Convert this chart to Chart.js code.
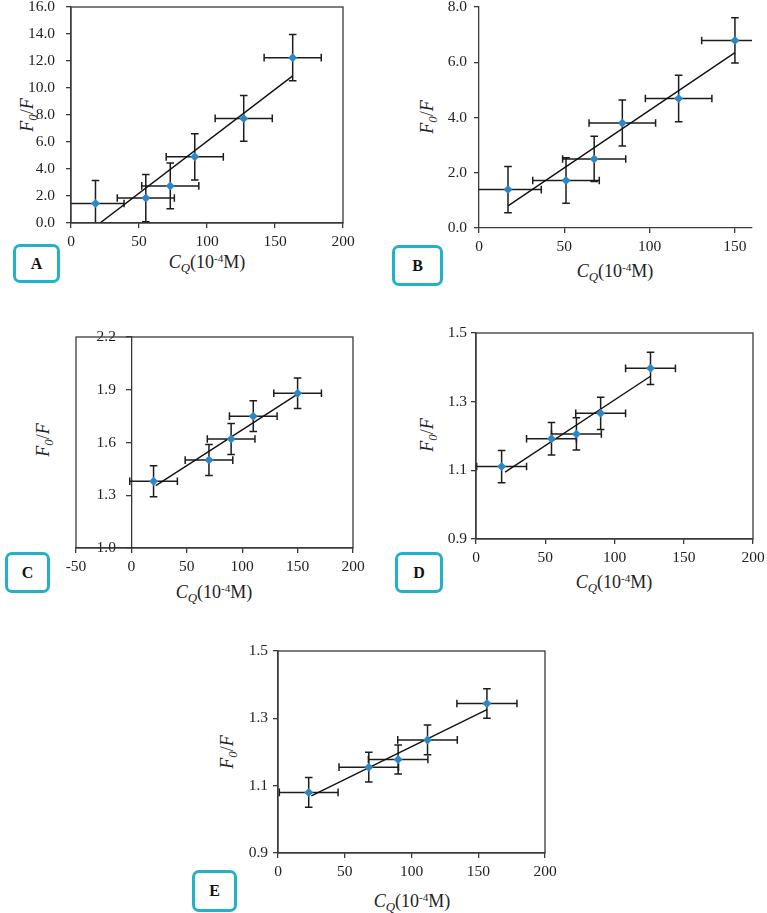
<!DOCTYPE html>
<html>
<head>
<meta charset="utf-8">
<script src="https://cdn.jsdelivr.net/npm/chart.js@4.4.1/dist/chart.umd.min.js"></script>
<style>
  body { margin: 0; background: #fff; width: 767px; height: 913px; position: relative; overflow: hidden; font-family: "Liberation Serif", serif; color: #222; }
  .wrap { position: absolute; }
  .xt, .yt { position: absolute; font-size: 18px; line-height: 1; white-space: nowrap; transform: translate(-50%, -50%); }
  .yt { transform: translate(-50%, -50%) rotate(-90deg); }
  sub { font-size: 0.72em; vertical-align: -0.28em; line-height: 0; }
  sup { font-size: 0.62em; vertical-align: 0.55em; line-height: 0; }
  .tag { position: absolute; box-sizing: border-box; border: 3px solid #22b1c7; border-radius: 7px;
         display: flex; align-items: center; justify-content: center; font-weight: bold; font-size: 16px; color: #111; }
</style>
</head>
<body>

<div class="xt" style="left:207px;top:262px"><i>C</i><sub><i>Q</i></sub>(10<sup>-4</sup>M)</div>
<div class="yt" style="left:27px;top:115px"><i>F</i><sub><i>0</i></sub>/<i>F</i></div>
<div class="tag" style="left:13px;top:244px;width:47px;height:39px">A</div>

<div class="xt" style="left:615px;top:271px"><i>C</i><sub><i>Q</i></sub>(10<sup>-4</sup>M)</div>
<div class="yt" style="left:427px;top:117px"><i>F</i><sub><i>0</i></sub>/<i>F</i></div>
<div class="tag" style="left:392px;top:245px;width:51px;height:41px">B</div>

<div class="xt" style="left:214px;top:592px"><i>C</i><sub><i>Q</i></sub>(10<sup>-4</sup>M)</div>
<div class="yt" style="left:43px;top:440px"><i>F</i><sub><i>0</i></sub>/<i>F</i></div>
<div class="tag" style="left:5px;top:552px;width:45px;height:41px">C</div>

<div class="xt" style="left:614px;top:582px"><i>C</i><sub><i>Q</i></sub>(10<sup>-4</sup>M)</div>
<div class="yt" style="left:427px;top:435px"><i>F</i><sub><i>0</i></sub>/<i>F</i></div>
<div class="tag" style="left:395px;top:552px;width:48px;height:41px">D</div>

<div class="xt" style="left:412px;top:901px"><i>C</i><sub><i>Q</i></sub>(10<sup>-4</sup>M)</div>
<div class="yt" style="left:227px;top:752px"><i>F</i><sub><i>0</i></sub>/<i>F</i></div>
<div class="tag" style="left:192px;top:870px;width:45px;height:42px">E</div>

<script>
// panel A
const aX = [18, 55, 73, 91, 127, 163];
const aY = [1.45, 1.85, 2.75, 4.9, 7.75, 12.25];
const aXErr = [21, 21, 21, 21, 21, 21];
const aYErr = [1.7, 1.75, 1.7, 1.72, 1.7, 1.72];
const aTrendX = [18, 163];
const aTrendY = [-0.26, 10.9];
const aXTicks = [0, 50, 100, 150, 200];
const aYTicks = [0, 2, 4, 6, 8, 10, 12, 14, 16];

// panel B
const bX = [17, 51, 67.5, 84, 117, 150];
const bY = [1.39, 1.72, 2.5, 3.8, 4.69, 6.79];
const bXErr = [19.5, 19.5, 18.5, 19.5, 19.5, 19.5];
const bYErr = [0.84, 0.82, 0.82, 0.83, 0.84, 0.82];
const bTrendX = [17, 150];
const bTrendY = [0.8, 6.35];
const bXTicks = [0, 50, 100, 150];
const bYTicks = [0, 2, 4, 6, 8];

// panel C
const cX = [20, 70, 90, 110, 150];
const cY = [1.38, 1.5, 1.62, 1.75, 1.88];
const cXErr = [21.5, 21.5, 21.5, 21.5, 21.5];
const cYErr = [0.088, 0.088, 0.088, 0.088, 0.087];
const cTrendX = [22, 150];
const cTrendY = [1.355, 1.875];
const cXTicks = [-50, 0, 50, 100, 150, 200];
const cYTicks = [1.0, 1.3, 1.6, 1.9, 2.2];

// panel D
const dX = [18.5, 54.5, 72.5, 90, 126];
const dY = [1.111, 1.192, 1.206, 1.266, 1.397];
const dXErr = [18, 18, 18, 18, 18];
const dYErr = [0.047, 0.047, 0.047, 0.047, 0.047];
const dTrendX = [21, 126];
const dTrendY = [1.095, 1.374];
const dXTicks = [0, 50, 100, 150, 200];
const dYTicks = [0.9, 1.1, 1.3, 1.5];

// panel E
const eX = [23, 68, 90, 112, 156.5];
const eY = [1.08, 1.155, 1.178, 1.236, 1.344];
const eXErr = [22, 22.3, 22.3, 22.3, 22.5];
const eYErr = [0.044, 0.044, 0.043, 0.044, 0.044];
const eTrendX = [25, 156.5];
const eTrendY = [1.07, 1.326];
const eXTicks = [0, 50, 100, 150, 200];
const eYTicks = [0.9, 1.1, 1.3, 1.5];

const blue = '#2f86c6';
const axisColor = '#3a3a3a';
const tickFont = { family: 'Liberation Serif', size: 15.5 };

// plot area of each panel on the page: left, top, right, bottom
const panels = [
  { rect: [71, 7, 343, 223], xs: aX, ys: aY, xe: aXErr, ye: aYErr, tx: aTrendX, ty: aTrendY, xt: aXTicks, yt: aYTicks, box: true, ypad: 11 },
  { rect: [479, 7, 752, 228], xs: bX, ys: bY, xe: bXErr, ye: bYErr, tx: bTrendX, ty: bTrendY, xt: bXTicks, yt: bYTicks, xmax: 160, box: false, ypad: 7 },
  { rect: [76, 337, 353, 548], xs: cX, ys: cY, xe: cXErr, ye: cYErr, tx: cTrendX, ty: cTrendY, xt: cXTicks, yt: cYTicks, box: true, yAtZero: true, ypad: 0 },
  { rect: [476, 333, 753, 539], xs: dX, ys: dY, xe: dXErr, ye: dYErr, tx: dTrendX, ty: dTrendY, xt: dXTicks, yt: dYTicks, box: true, ypad: 4 },
  { rect: [278, 651, 545, 853], xs: eX, ys: eY, xe: eXErr, ye: eYErr, tx: eTrendX, ty: eTrendY, xt: eXTicks, yt: eYTicks, box: true, ypad: 5 }
];

function errorBars(p) {
  return {
    id: 'errorBars',
    beforeDatasetsDraw(chart) {
      const { ctx, chartArea: a, scales: { x, y } } = chart;
      const cap = 3.8;
      ctx.save();
      ctx.beginPath();
      ctx.rect(a.left, a.top, a.right - a.left, a.bottom - a.top);
      ctx.clip();
      ctx.strokeStyle = '#1c1c1c';
      ctx.lineWidth = 1.5;
      p.xs.forEach((xv, i) => {
        const yv = p.ys[i];
        const px = x.getPixelForValue(xv), py = y.getPixelForValue(yv);
        const x0 = x.getPixelForValue(xv - p.xe[i]), x1 = x.getPixelForValue(xv + p.xe[i]);
        const y0 = y.getPixelForValue(yv - p.ye[i]), y1 = y.getPixelForValue(yv + p.ye[i]);
        ctx.beginPath();
        ctx.moveTo(x0, py); ctx.lineTo(x1, py);
        ctx.moveTo(x0, py - cap); ctx.lineTo(x0, py + cap);
        ctx.moveTo(x1, py - cap); ctx.lineTo(x1, py + cap);
        ctx.moveTo(px, y0); ctx.lineTo(px, y1);
        ctx.moveTo(px - cap, y0); ctx.lineTo(px + cap, y0);
        ctx.moveTo(px - cap, y1); ctx.lineTo(px + cap, y1);
        ctx.stroke();
      });
      ctx.restore();
    }
  };
}

const boxPlugin = {
  id: 'box',
  afterDraw(chart) {
    const { ctx, chartArea: a } = chart;
    ctx.save();
    ctx.strokeStyle = axisColor;
    ctx.lineWidth = 1.3;
    ctx.strokeRect(a.left, a.top, a.right - a.left, a.bottom - a.top);
    ctx.restore();
  }
};

function makePanel(p) {
  const [l, t, r, b] = p.rect;
  // padding kept larger than the half label size so the plot area lands exactly on rect
  const padL = 62, padT = 26, padR = 26, padB = 34;
  const w = r - l + padL + padR, h = b - t + padT + padB;
  const div = document.createElement('div');
  div.className = 'wrap';
  div.style.left = (l - padL) + 'px';
  div.style.top = (t - padT) + 'px';
  div.style.width = w + 'px';
  div.style.height = h + 'px';
  const canvas = document.createElement('canvas');
  canvas.width = w;
  canvas.height = h;
  canvas.style.width = w + 'px';
  canvas.style.height = h + 'px';
  div.appendChild(canvas);
  document.body.appendChild(div);

  const axisBase = {
    type: 'linear',
    grid: { display: true, drawOnChartArea: false, drawTicks: true, tickLength: 5, color: axisColor, lineWidth: 1.3 },
    border: { display: true, color: axisColor, width: 1.3 },
  };

  // an axis placed at x = 0 gets no label padding, so pad the text itself
  const yLabel = p.yAtZero ? v => v.toFixed(1) + '\u2002\u2002' : v => v.toFixed(1);

  new Chart(canvas, {
    data: {
      datasets: [
        {
          type: 'scatter',
          data: p.xs.map((x, i) => ({ x: x, y: p.ys[i] })),
          pointStyle: 'rectRot',
          pointRadius: 4.5,
          backgroundColor: blue,
          borderWidth: 0,
          clip: 0
        },
        {
          type: 'line',
          data: p.tx.map((x, i) => ({ x: x, y: p.ty[i] })),
          borderColor: '#111',
          borderWidth: 1.4,
          pointRadius: 0,
          fill: false,
          clip: 0
        }
      ]
    },
    options: {
      responsive: false,
      animation: false,
      devicePixelRatio: 1,
      layout: { padding: { left: p.yAtZero ? padL : 0, top: padT, right: padR, bottom: 0 } },
      plugins: { legend: { display: false }, tooltip: { enabled: false } },
      scales: {
        x: {
          ...axisBase,
          min: p.xt[0],
          max: p.xmax !== undefined ? p.xmax : p.xt[p.xt.length - 1],
          afterBuildTicks: s => { s.ticks = p.xt.map(v => ({ value: v })); },
          afterFit: s => { s.height = padB; },
          ticks: { color: '#222', font: tickFont, padding: 5, maxRotation: 0, autoSkip: false, callback: v => v }
        },
        y: {
          ...axisBase,
          position: p.yAtZero ? { x: 0 } : 'left',
          min: p.yt[0],
          max: p.yt[p.yt.length - 1],
          afterBuildTicks: s => { s.ticks = p.yt.map(v => ({ value: v })); },
          afterFit: s => { s.width = padL; },
          ticks: { color: '#222', font: tickFont, padding: p.ypad, autoSkip: false, callback: yLabel }
        }
      }
    },
    plugins: p.box ? [errorBars(p), boxPlugin] : [errorBars(p)]
  });
}

panels.forEach(makePanel);
</script>
</body>
</html>
